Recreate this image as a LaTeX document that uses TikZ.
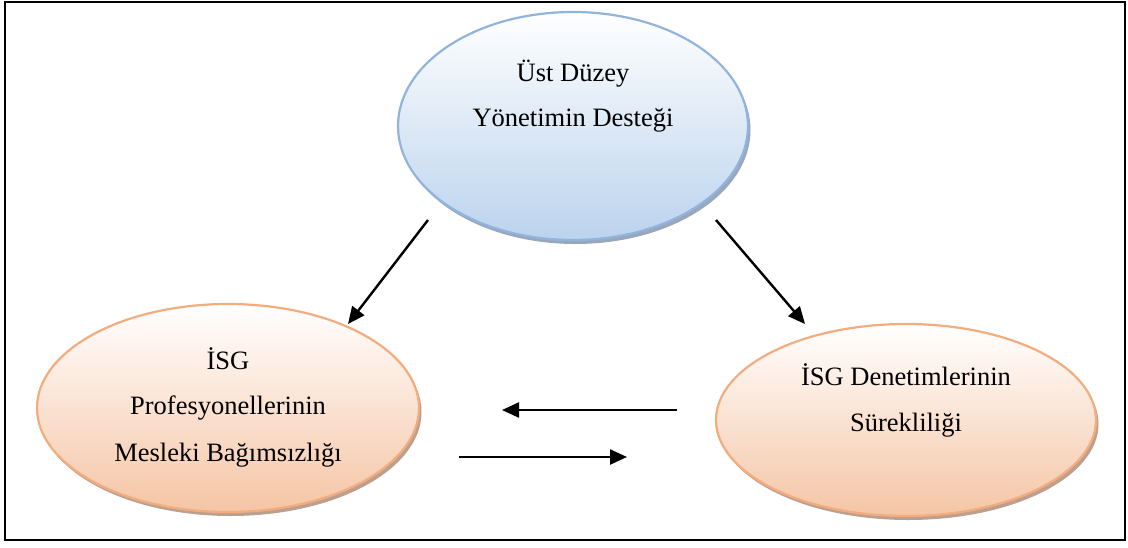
\documentclass[tikz,border=0pt]{standalone}
\usepackage{fontspec}
\setmainfont{Liberation Serif}
\usetikzlibrary{shapes.geometric,shadows,arrows.meta}
\definecolor{bluefill}{RGB}{187,211,237}
\definecolor{blueline}{RGB}{145,180,220}
\definecolor{peachfill}{RGB}{245,197,165}
\definecolor{peachline}{RGB}{242,172,125}
\definecolor{shadowblue}{RGB}{110,130,160}
\definecolor{shadowbrown}{RGB}{160,120,95}
\tikzset{
  oval/.style={ellipse, inner sep=0pt, line width=2.2pt},
  blueoval/.style={oval, draw=blueline, top color=white, bottom color=bluefill,
    drop shadow={shadow xshift=2.5pt, shadow yshift=-4pt, opacity=0.7, fill=shadowblue}},
  peachoval/.style={oval, draw=peachline, top color=white, bottom color=peachfill,
    drop shadow={shadow xshift=2.5pt, shadow yshift=-4pt, opacity=0.7, fill=shadowbrown}},
  lbl/.style={font=\fontsize{26.5}{30}\selectfont, inner sep=0pt, anchor=base},
  arr/.style={line width=2.4pt, -{Triangle[length=17pt,width=15pt]}}
}
\begin{document}
\begin{tikzpicture}[x=1pt,y=-1pt]
\useasboundingbox (0,0) rectangle (1128,547);
\draw[line width=2.2pt] (5,2) rectangle (1125,540);
% ovals
\node[blueoval, minimum width=350pt, minimum height=228pt] (top) at (573,126) {};
\node[peachoval, minimum width=382pt, minimum height=208pt] (left) at (228,408) {};
\node[peachoval, minimum width=380pt, minimum height=192pt] (right) at (906,420) {};
% labels
\node[lbl] (t1) at (573,81) {Üst Düzey};
\node[lbl] (t2) at (573,126) {Yönetimin Desteği};
\node[lbl] (l1) at (228,369) {İSG};
\node[lbl] (l2) at (228,414) {Profesyonellerinin};
\node[lbl] (l3) at (228,461) {Mesleki Bağımsızlığı};
\node[lbl] (r1) at (906,385) {İSG Denetimlerinin};
\node[lbl] (r2) at (906,431) {Sürekliliği};
% arrow end points
\coordinate (a1s) at (428,220);
\coordinate (a1e) at (348,324);
\coordinate (a2s) at (716,220);
\coordinate (a2e) at (805,324);
\coordinate (a3s) at (677,410);
\coordinate (a3e) at (502,410);
\coordinate (a4s) at (459,457);
\coordinate (a4e) at (627,457);
\draw[arr] (a1s) -- (a1e);
\draw[arr] (a2s) -- (a2e);
\draw[arr] (a3s) -- (a3e);
\draw[arr] (a4s) -- (a4e);
\end{tikzpicture}
\end{document}
